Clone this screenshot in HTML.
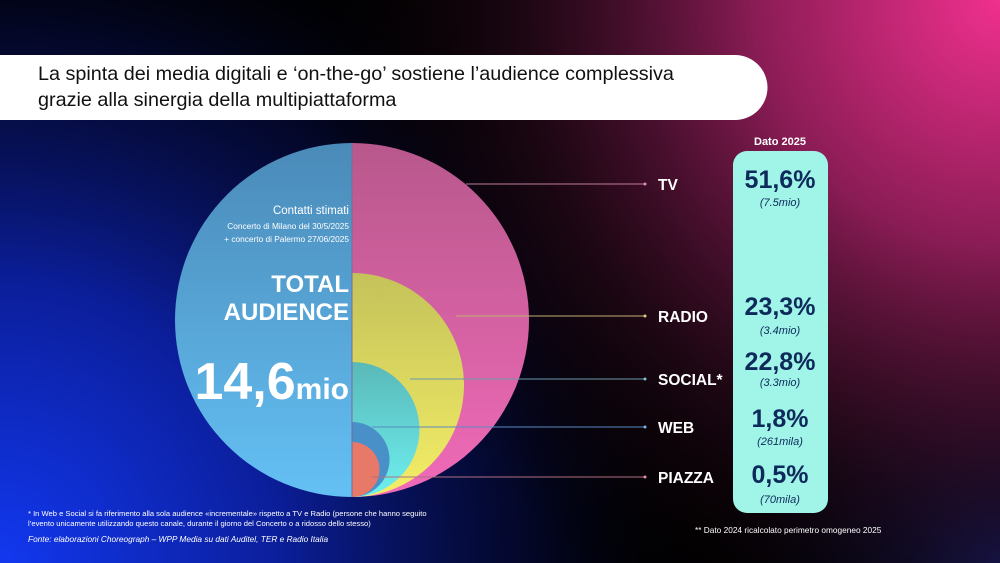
<!DOCTYPE html>
<html><head><meta charset="utf-8"><style>
html,body{margin:0;padding:0;width:1000px;height:563px;overflow:hidden;background:#000}
svg{display:block}
text{font-family:"Liberation Sans",sans-serif}
</style></head><body>
<svg width="1000" height="563" viewBox="0 0 1000 563" xmlns="http://www.w3.org/2000/svg">
<defs>
<radialGradient id="bgPink" cx="1000" cy="0" r="700" gradientUnits="userSpaceOnUse">
<stop offset="0" stop-color="#f0308e"/><stop offset="0.35" stop-color="#8a1c55"/><stop offset="0.7" stop-color="#2a0a1c" stop-opacity="0.6"/><stop offset="1" stop-color="#000" stop-opacity="0"/></radialGradient>
<radialGradient id="bgBlue" cx="0" cy="563" r="700" gradientUnits="userSpaceOnUse">
<stop offset="0" stop-color="#1238f0"/><stop offset="0.4" stop-color="#0b1e9a"/><stop offset="0.75" stop-color="#050a3a" stop-opacity="0.7"/><stop offset="1" stop-color="#000" stop-opacity="0"/></radialGradient>
<radialGradient id="bgBlue2" cx="1000" cy="563" r="300" gradientUnits="userSpaceOnUse">
<stop offset="0" stop-color="#101a60"/><stop offset="1" stop-color="#000" stop-opacity="0"/></radialGradient>
<linearGradient id="gBlue" x1="0" y1="0" x2="0" y2="1"><stop offset="0" stop-color="#4a8ab8"/><stop offset="1" stop-color="#64c0f4"/></linearGradient>
<linearGradient id="gPink" x1="0" y1="0" x2="0" y2="1"><stop offset="0" stop-color="#b8588c"/><stop offset="1" stop-color="#f06ab8"/></linearGradient>
<linearGradient id="gYel" x1="0" y1="0" x2="0" y2="1"><stop offset="0" stop-color="#c4c25a"/><stop offset="1" stop-color="#f4ee66"/></linearGradient>
<linearGradient id="gTeal" x1="0" y1="0" x2="0" y2="1"><stop offset="0" stop-color="#5ab8b8"/><stop offset="1" stop-color="#6ef0f0"/></linearGradient>
</defs>
<rect width="1000" height="563" fill="#000"/>
<rect width="1000" height="563" fill="url(#bgBlue2)"/>
<rect width="1000" height="563" fill="url(#bgBlue)"/>
<rect width="1000" height="563" fill="url(#bgPink)"/>
<path d="M0 55 H735 A32 32 0 0 1 735 120 H0 Z" fill="#fff"/>
<text x="38" y="80" font-size="19.8" fill="#111">La spinta dei media digitali e ‘on-the-go’ sostiene l’audience complessiva</text>
<text x="38" y="106" font-size="19.8" fill="#111">grazie alla sinergia della multipiattaforma</text>
<path d="M352 143 A177 177 0 0 0 352 497 Z" fill="url(#gBlue)"/>
<path d="M352 143 A177 177 0 0 1 352 497 Z" fill="url(#gPink)"/>
<path d="M352 273 A112 112 0 0 1 352 497 Z" fill="url(#gYel)"/>
<path d="M352 362 A67.5 67.5 0 0 1 352 497 Z" fill="url(#gTeal)"/>
<path d="M352 422 A37.5 37.5 0 0 1 352 497 Z" fill="#4a90c8"/>
<path d="M352 442 A27.5 27.5 0 0 1 352 497 Z" fill="#e87868"/>
<line x1="352" y1="143" x2="352" y2="497" stroke="#7a6a9a" stroke-width="1"/>
<text x="349" y="214" font-size="11.5" fill="#fff" text-anchor="end">Contatti stimati</text>
<text x="349" y="229" font-size="8.3" fill="#fff" text-anchor="end">Concerto di Milano del 30/5/2025</text>
<text x="349" y="242" font-size="8.3" fill="#fff" text-anchor="end">+ concerto di Palermo 27/06/2025</text>
<text x="349" y="292" font-size="24" font-weight="bold" fill="#fff" text-anchor="end">TOTAL</text>
<text x="349" y="320" font-size="24" font-weight="bold" fill="#fff" text-anchor="end">AUDIENCE</text>
<text x="349" y="399" font-weight="bold" fill="#fff" text-anchor="end"><tspan font-size="52">14,6</tspan><tspan font-size="30">mio</tspan></text>
<g stroke-width="1">
<line x1="466" y1="184" x2="645" y2="184" stroke="#c07aa0"/>
<line x1="456" y1="316" x2="645" y2="316" stroke="#c0b070"/>
<line x1="410" y1="379" x2="645" y2="379" stroke="#6a9aaa"/>
<line x1="372" y1="427" x2="645" y2="427" stroke="#5a8ac0"/>
<line x1="372" y1="477" x2="645" y2="477" stroke="#b07080"/>
</g>
<g>
<circle cx="645" cy="184" r="1.5" fill="#e090c0"/>
<circle cx="645" cy="316" r="1.5" fill="#e0d080"/>
<circle cx="645" cy="379" r="1.5" fill="#80c0d0"/>
<circle cx="645" cy="427" r="1.5" fill="#80b0e0"/>
<circle cx="645" cy="477" r="1.5" fill="#e090a0"/>
</g>
<g fill="#fff" font-size="15.5" font-weight="bold">
<text x="658" y="190">TV</text>
<text x="658" y="322">RADIO</text>
<text x="658" y="385">SOCIAL*</text>
<text x="658" y="433">WEB</text>
<text x="658" y="483">PIAZZA</text>
</g>
<text x="780" y="145" font-size="11" font-weight="bold" fill="#fff" text-anchor="middle">Dato 2025</text>
<rect x="733" y="151" width="95" height="362" rx="14" fill="#a0f4e8"/>
<g fill="#0e2a5a" text-anchor="middle">
<text x="780" y="188" font-size="25" font-weight="bold">51,6%</text>
<text x="780" y="206" font-size="11" font-style="italic">(7.5mio)</text>
<text x="780" y="315" font-size="25" font-weight="bold">23,3%</text>
<text x="780" y="334" font-size="11" font-style="italic">(3.4mio)</text>
<text x="780" y="370" font-size="25" font-weight="bold">22,8%</text>
<text x="780" y="386" font-size="11" font-style="italic">(3.3mio)</text>
<text x="780" y="427" font-size="25" font-weight="bold">1,8%</text>
<text x="780" y="445" font-size="11" font-style="italic">(261mila)</text>
<text x="780" y="483" font-size="25" font-weight="bold">0,5%</text>
<text x="780" y="503" font-size="11" font-style="italic">(70mila)</text>
</g>
<text x="695" y="533" font-size="8.3" fill="#fff">** Dato 2024 ricalcolato perimetro omogeneo 2025</text>
<text x="28" y="516" font-size="7.6" fill="#fff">* In Web e Social si fa riferimento alla sola audience «incrementale» rispetto a TV e Radio (persone che hanno seguito</text>
<text x="28" y="526" font-size="7.6" fill="#fff">l’evento unicamente utilizzando questo canale, durante il giorno del Concerto o a ridosso dello stesso)</text>
<text x="28" y="542" font-size="8.3" font-style="italic" fill="#fff">Fonte: elaborazioni Choreograph – WPP Media su dati Auditel, TER e Radio Italia</text>
</svg>
</body></html>
